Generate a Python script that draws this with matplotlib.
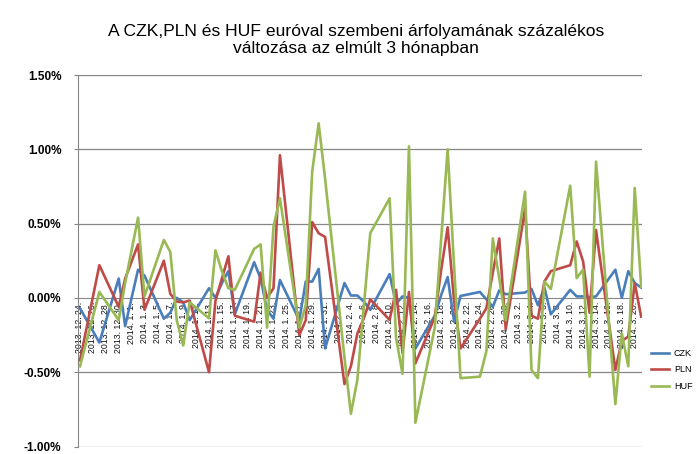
import datetime as dt

import matplotlib
matplotlib.use("Agg")
import matplotlib.pyplot as plt
from matplotlib.ticker import FuncFormatter

plt.rcParams['font.family'] = ['Liberation Sans', 'DejaVu Sans']

dates = (
    ["2013-12-24", "2013-12-27", "2013-12-30", "2013-12-31"]
    + ["2014-01-%02d" % d for d in (2, 3, 6, 7, 8, 9, 10, 13, 14, 15, 16, 17, 20, 21,
                                     22, 23, 24, 27, 28, 29, 30, 31)]
    + ["2014-02-%02d" % d for d in (3, 4, 5, 6, 7, 10, 11, 12, 13, 14, 17, 18, 19, 20,
                                     21, 24, 25, 26, 27, 28)]
    + ["2014-03-%02d" % d for d in (3, 4, 5, 6, 7, 10, 11, 12, 13, 14, 17, 18, 19, 20, 21)]
)

czk = [-0.07, -0.30, 0.13, -0.19,
       0.19, 0.15, -0.14, -0.10, 0.0, -0.03, -0.15, 0.065, 0.0, 0.10, 0.18, -0.11,
       0.24, 0.13, -0.08, -0.14, 0.12, -0.15, 0.11, 0.11, 0.195, -0.34,
       0.10, 0.016, 0.016, -0.025, -0.08, 0.16, -0.04, 0.01, 0.0, -0.34, -0.12, 0.02,
       0.14, -0.16, 0.013, 0.04, -0.01, -0.06, 0.05, 0.025,
       0.036, 0.06, -0.05, 0.07, -0.11, 0.054, 0.01, 0.01, 0.005, 0.01, 0.19, 0.0,
       0.18, 0.10, 0.07]

pln = [-0.42, 0.22, -0.06, 0.13,
       0.36, -0.08, 0.25, 0.027, -0.025, -0.03, -0.018, -0.50, -0.02, 0.13, 0.28, -0.12,
       -0.16, 0.17, 0.0, 0.065, 0.96, -0.25, -0.15, 0.51, 0.435, 0.41,
       -0.58, -0.46, -0.24, -0.137, -0.01, -0.148, 0.054, -0.37, 0.04, -0.44, -0.13, 0.19,
       0.475, -0.02, -0.34, -0.14, -0.07, 0.17, 0.40, -0.21,
       0.60, -0.12, -0.14, 0.11, 0.18, 0.22, 0.38, 0.245, -0.10, 0.457, -0.485, -0.29,
       -0.26, 0.10, -0.126]

huf = [-0.46, 0.04, -0.15, 0.10,
       0.54, 0.01, 0.39, 0.31, -0.15, -0.32, -0.03, -0.137, 0.32, 0.18, 0.065, 0.054,
       0.33, 0.36, -0.20, 0.48, 0.67, -0.20, -0.05, 0.85, 1.175, 0.80,
       -0.40, -0.78, -0.55, -0.06, 0.435, 0.67, -0.27, -0.51, 1.02, -0.84, -0.20, 0.40,
       1.0, 0.21, -0.54, -0.53, -0.36, 0.40, 0.13, -0.15,
       0.715, -0.485, -0.54, 0.11, 0.06, 0.755, 0.133, 0.19, -0.53, 0.917, -0.715, -0.24,
       -0.46, 0.74, 0.076]

x = [dt.datetime.strptime(d, "%Y-%m-%d") for d in dates]

fig = plt.figure(figsize=(6.97, 4.54), dpi=100)
ax = fig.add_axes([78 / 697, 1 - 446.5 / 454, (642 - 78) / 697, (446.5 - 75) / 454])

# spine position first: moving it resets the tick objects
ax.spines["bottom"].set_position(("data", 0))
ax.spines["bottom"].set_color("#868686")
ax.spines["left"].set_color("#868686")
ax.spines["top"].set_visible(False)
ax.spines["right"].set_visible(False)

ax.plot(x, czk, color="#4A7EBB", lw=1.9, label="CZK", zorder=3)
ax.plot(x, pln, color="#BE4B48", lw=1.9, label="PLN", zorder=3)
ax.plot(x, huf, color="#98B954", lw=1.9, label="HUF", zorder=3)

start = dt.datetime(2013, 12, 24)
ax.set_xlim(start - dt.timedelta(days=0.31), start + dt.timedelta(days=87.13))
ax.set_ylim(-1.0, 1.5)

ticks = [start + dt.timedelta(days=2 * i) for i in range(44)]
ax.set_xticks(ticks)
ax.set_xticklabels([f"{t.year}. {t.month}. {t.day}." for t in ticks])
ax.tick_params(axis="x", length=0, pad=3, labelsize=6.3, labelcolor="#111111",
               labelrotation=90)

ax.set_yticks([-1.0, -0.5, 0.0, 0.5, 1.0, 1.5])
ax.yaxis.set_major_formatter(FuncFormatter(lambda v, p: f"{v:.2f}%"))
ax.tick_params(axis="y", length=3, color="#868686", pad=9, labelsize=8.5)
for lbl in ax.get_yticklabels():
    lbl.set_fontweight("bold")
for v in (-1.0, -0.5, 0.5, 1.0, 1.5):
    ax.axhline(v, color="#868686", lw=0.9, zorder=0)

fig.suptitle("A CZK,PLN és HUF euróval szembeni árfolyamának százalékos\n"
             "változása az elmúlt 3 hónapban",
             x=356 / 697, y=1 - 24 / 454, fontsize=12.6, va="top", linespacing=1.15)

fig.legend(loc="center left", bbox_to_anchor=(645 / 697, 1 - 370 / 454),
           frameon=False, fontsize=6.5, handlelength=2.0, handletextpad=0.5,
           labelspacing=0.85, borderpad=0.2)

fig.savefig("out.png", dpi=100)
